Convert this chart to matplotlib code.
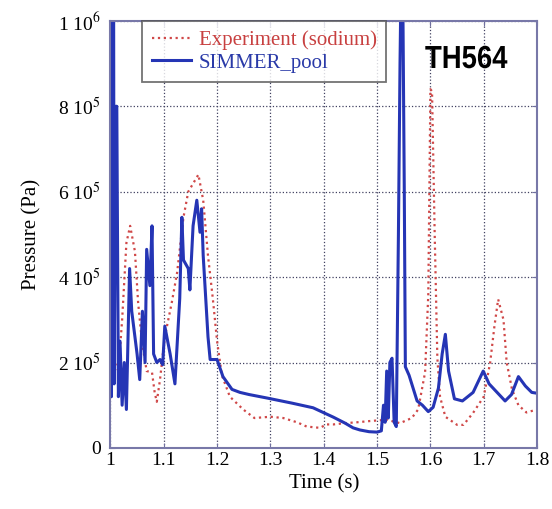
import matplotlib.pyplot as plt
from matplotlib.textpath import TextPath
from matplotlib.patches import PathPatch
from matplotlib.font_manager import FontProperties
import matplotlib.transforms as mtransforms

plt.rcParams['font.family'] = ['Liberation Serif', 'DejaVu Serif']
plt.rcParams['mathtext.fontset'] = 'stix'

# SIMMER_pool curve (time in s, pressure in 1e5 Pa)
t_sim = [1.000, 1.002, 1.003, 1.006, 1.007, 1.010, 1.012, 1.015, 1.018, 1.022, 1.026,
         1.030, 1.036, 1.040, 1.050, 1.055, 1.060, 1.065, 1.068, 1.074, 1.078, 1.081,
         1.087, 1.093, 1.098, 1.102, 1.112, 1.121, 1.130, 1.134, 1.137, 1.146, 1.149,
         1.155, 1.162, 1.168, 1.171, 1.174, 1.183, 1.187, 1.200, 1.211, 1.228, 1.243,
         1.260, 1.293, 1.340, 1.380, 1.418, 1.440, 1.455, 1.468, 1.485, 1.500, 1.508,
         1.512, 1.515, 1.518, 1.521, 1.524, 1.528, 1.532, 1.536, 1.540, 1.543, 1.545,
         1.548, 1.551, 1.553, 1.560, 1.575, 1.585, 1.596, 1.605, 1.615, 1.622, 1.628,
         1.634, 1.645, 1.660, 1.680, 1.699, 1.710, 1.725, 1.740, 1.752, 1.765, 1.778,
         1.790, 1.800]
p_sim = [3.0, 1.2, 11.0, 11.0, 1.5, 8.0, 8.0, 1.2, 2.5, 1.0, 2.0,
         0.9, 4.2, 3.2, 2.2, 1.6, 3.2, 2.0, 4.65, 3.8, 5.2, 2.2,
         2.0, 2.07, 1.95, 2.85, 2.2, 1.5, 3.5, 5.4, 4.4, 4.2, 3.7,
         5.2, 5.8, 5.05, 5.6, 4.5, 2.6, 2.07, 2.07, 1.67, 1.37, 1.3,
         1.25, 1.17, 1.05, 0.94, 0.72, 0.58, 0.47, 0.42, 0.38, 0.37, 0.4,
         1.0, 0.6, 1.8, 0.7, 2.0, 2.1, 0.6, 0.5, 5.0, 9.0, 11.0,
         11.0, 6.0, 1.9, 1.7, 1.1, 1.0, 0.85, 0.95, 1.4, 2.2, 2.66,
         1.8, 1.15, 1.1, 1.3, 1.8, 1.5, 1.3, 1.1, 1.25, 1.67, 1.45,
         1.3, 1.28]

# Experiment (sodium) curve
t_exp = [1.000, 1.003, 1.008, 1.015, 1.022, 1.030, 1.037, 1.046, 1.052, 1.059, 1.068,
         1.078, 1.083, 1.087, 1.093, 1.102, 1.115, 1.125, 1.137, 1.146, 1.165, 1.174,
         1.183, 1.192, 1.200, 1.209, 1.224, 1.249, 1.270, 1.300, 1.324, 1.350, 1.368,
         1.393, 1.405, 1.418, 1.440, 1.462, 1.487, 1.518, 1.543, 1.565, 1.577, 1.590,
         1.596, 1.600, 1.603, 1.608, 1.613, 1.618, 1.628, 1.650, 1.662, 1.680, 1.700,
         1.712, 1.720, 1.727, 1.737, 1.743, 1.753, 1.765, 1.780, 1.800]
p_exp = [6.8, 3.1, 2.0, 1.8, 3.0, 4.8, 5.2, 4.6, 3.4, 2.5, 1.8,
         1.77, 1.3, 1.08, 1.6, 2.6, 3.4, 4.1, 5.4, 6.0, 6.4, 5.8,
         4.5, 3.5, 2.5, 1.7, 1.2, 0.9, 0.7, 0.73, 0.7, 0.6, 0.5,
         0.47, 0.55, 0.55, 0.58, 0.6, 0.63, 0.66, 0.58, 0.7, 0.9, 1.77,
         3.6, 8.4, 8.35, 5.0, 2.1, 1.2, 0.73, 0.54, 0.54, 0.82, 1.2,
         2.0, 2.85, 3.48, 3.0, 2.0, 1.37, 1.0, 0.83, 0.9]

x_ticks = [1, 1.1, 1.2, 1.3, 1.4, 1.5, 1.6, 1.7, 1.8]
x_labels = ['1', '1.1', '1.2', '1.3', '1.4', '1.5', '1.6', '1.7', '1.8']
y_ticks = [0, 2e5, 4e5, 6e5, 8e5, 1e6]
y_labels = ['0', r'2 10$^5$', r'4 10$^5$', r'6 10$^5$', r'8 10$^5$', r'1 10$^6$']

fig = plt.figure(figsize=(5.52, 5.09), dpi=100)
ax = fig.add_axes([0.2, 0.12, 0.773, 0.839])

ax.plot(t_exp, [p * 1e5 for p in p_exp], linestyle=':', color='#d04848', linewidth=1.6,
        label='Experiment (sodium)')
ax.plot(t_sim, [p * 1e5 for p in p_sim], linestyle='-', color='#2535b5', linewidth=2.2,
        label='SIMMER_pool')

ax.set_xlim(1, 1.8)
ax.set_ylim(0, 1e6)
ax.set_xticks(x_ticks)
ax.set_xticklabels(x_labels)
ax.set_yticks(y_ticks)
ax.set_yticklabels(y_labels)
ax.tick_params(direction='in', labelsize=14, color='#7070a0', top=True, right=True)
ax.tick_params(axis='y', pad=7)
ax.tick_params(axis='x', pad=3)
ax.grid(True, linestyle=':', color='#404060', linewidth=0.9)
for s in ax.spines.values():
    s.set_color('#7878a8')
    s.set_linewidth(1.5)

ax.set_xlabel('Time (s)', fontsize=15, labelpad=4)
ax.set_ylabel('Pressure (Pa)', fontsize=15, labelpad=12)

leg = ax.legend(loc='upper left', bbox_to_anchor=(0.075, 1.0), fontsize=15, frameon=True,
                fancybox=False, borderpad=0.45, handlelength=1.9, handletextpad=0.35,
                labelspacing=0.15, borderaxespad=0)
leg.get_frame().set_edgecolor('#505050')
leg.get_frame().set_linewidth(1.3)
leg.get_texts()[0].set_color('#c84040')
leg.get_texts()[1].set_color('#2a3aa8')

# condensed bold label, drawn as a path squeezed horizontally
tp = TextPath((0, 0), 'TH564', size=23,
              prop=FontProperties(family='Liberation Sans', weight='bold'))
k = fig.dpi / 72
tr = mtransforms.Affine2D().scale(0.86 * k, k) + \
    mtransforms.ScaledTranslation(425 / 552, 441 / 509, fig.transFigure)
fig.patches.append(PathPatch(tp, transform=tr, color='black', lw=0))

fig.savefig('out.png', dpi=100)
